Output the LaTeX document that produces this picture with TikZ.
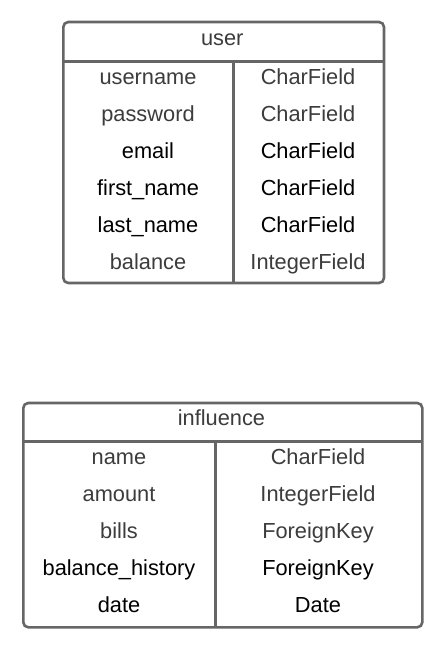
\documentclass[tikz,border=0pt]{standalone}
\usepackage{fontspec}
\setmainfont{Liberation Sans}
\definecolor{frame}{HTML}{666666}
\definecolor{soft}{HTML}{3C3C3C}
\begin{document}
\begin{tikzpicture}[x=1pt,y=-1pt,
  frame/.style={draw=frame,line width=2.6pt,rounded corners=5pt,fill=white},
  rule/.style={draw=frame,line width=2.6pt},
  txt/.style={inner sep=0pt,anchor=base,font=\fontsize{21.8}{24}\selectfont},
  soft/.style={txt,text=soft},
  hard/.style={txt,text=black}]
\fill[white] (0,0) rectangle (443,648);
\useasboundingbox (0,0) rectangle (443,648);
% user table
\node[frame,minimum width=320.7pt,minimum height=261pt,inner sep=0pt,anchor=north west] (user) at (62,20.7) {};
\draw[rule] (62,61.7) -- (382.7,61.7);
\draw[rule] (233.7,61.7) -- (233.7,281.7);
\node[soft] (ut) at (222.3,45.8) {user};
\node[soft] (u1a) at (148,84) {username};
\node[soft] (u1b) at (308,84) {CharField};
\node[soft] (u2a) at (148,121) {password};
\node[soft] (u2b) at (308,121) {CharField};
\node[hard] (u3a) at (148,158) {email};
\node[hard] (u3b) at (308,158) {CharField};
\node[hard] (u4a) at (148,195) {first\_name};
\node[hard] (u4b) at (308,195) {CharField};
\node[hard] (u5a) at (148,232) {last\_name};
\node[hard] (u5b) at (308,232) {CharField};
\node[soft] (u6a) at (148,269) {balance};
\node[soft] (u6b) at (308,269) {IntegerField};
% influence table
\node[frame,minimum width=399pt,minimum height=224.3pt,inner sep=0pt,anchor=north west] (infl) at (22,401.7) {};
\draw[rule] (22,441.7) -- (421,441.7);
\draw[rule] (215.3,441.7) -- (215.3,626);
\node[soft] (it) at (221.5,425.7) {influence};
\node[soft] (i1a) at (119,464) {name};
\node[soft] (i1b) at (318,464) {CharField};
\node[soft] (i2a) at (119,501) {amount};
\node[soft] (i2b) at (318,501) {IntegerField};
\node[soft] (i3a) at (119,538) {bills};
\node[soft] (i3b) at (318,538) {ForeignKey};
\node[hard] (i4a) at (119,575) {balance\_history};
\node[hard] (i4b) at (318,575) {ForeignKey};
\node[hard] (i5a) at (119,612) {date};
\node[hard] (i5b) at (318,612) {Date};
\end{tikzpicture}
\end{document}
